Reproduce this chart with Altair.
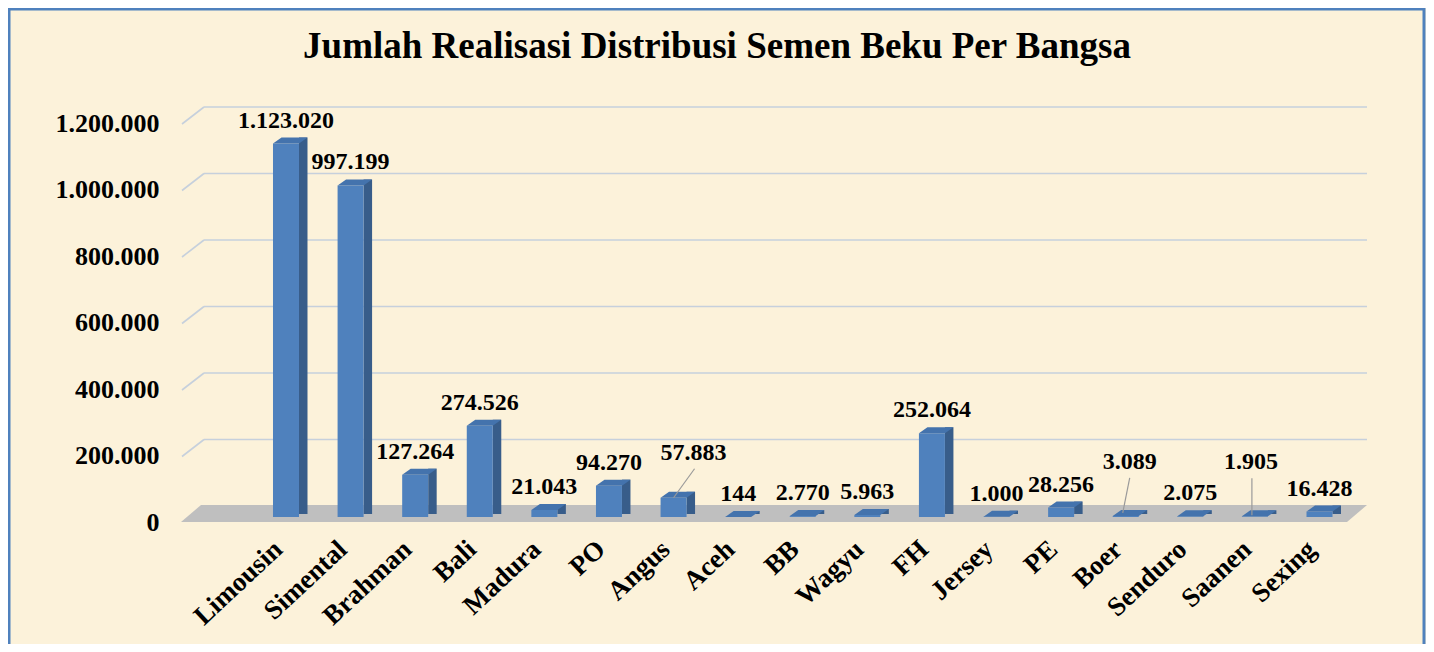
import altair as alt
import pandas as pd

# ---- data -------------------------------------------------------------
categories = ["Limousin", "Simental", "Brahman", "Bali", "Madura", "PO", "Angus",
              "Aceh", "BB", "Wagyu", "FH", "Jersey", "PE", "Boer", "Senduro",
              "Saanen", "Sexing"]
values = [1123020, 997199, 127264, 274526, 21043, 94270, 57883,
          144, 2770, 5963, 252064, 1000, 28256, 3089, 2075,
          1905, 16428]
y_ticks = [0, 200000, 400000, 600000, 800000, 1000000, 1200000]
title_text = "Jumlah Realisasi Distribusi Semen Beku Per Bangsa"


def fmt(v):
    return f"{v:,}".replace(",", ".")


df = pd.DataFrame({"bangsa": categories, "jumlah": values,
                   "label": [fmt(v) for v in values]})
grid_df = pd.DataFrame({"tick": y_ticks[1:]})
one = pd.DataFrame({"k": [0]})

# ---- layout / style ---------------------------------------------------
W, H = 1185, 399
FONT = "Liberation Serif"
FRONT, SIDE, TOP = "#4f81bd", "#385d8a", "#4473ad"
GRID = "#c6d0dc"
FLOOR = "#bfbfbf"
BG = "#fcf2da"

x_scale = alt.Scale(domain=categories, paddingInner=0, paddingOuter=0.6727, align=0.825)
y_scale = alt.Scale(domain=[0, 1200000], nice=False, zero=True)

x_axis = alt.Axis(title=None, labelAngle=317, labelAlign="right",
                  labelBaseline="alphabetic", labelFont=FONT, labelFontSize=27,
                  labelFontWeight="bold", labelColor="black", labelPadding=34,
                  labelOffset=-2, ticks=False, tickSize=0, domain=False,
                  grid=False, labelOverlap=False)
y_axis = alt.Axis(title=None, values=y_ticks,
                  labelExpr="replace(replace(format(datum.value, ','), ',', '.'), ',', '.')",
                  labelFont=FONT, labelFontSize=26, labelFontWeight="bold",
                  labelColor="black", labelPadding=23, labelOffset=5,
                  ticks=False, tickSize=0, domain=False, grid=False)

X = alt.X("bangsa:N", scale=x_scale, sort=categories, axis=x_axis, title=None)
Y = alt.Y("jumlah:Q", scale=y_scale, axis=y_axis, title=None)
YT = alt.Y("tick:Q", scale=y_scale, axis=y_axis, title=None)

border = alt.Chart(one).mark_rect(fillOpacity=0, stroke="#4f81bd", strokeWidth=3).encode(
    x=alt.value(-173), x2=alt.value(W + 57), y=alt.value(-109), y2=alt.value(H + 160))

title = alt.Chart(one).mark_text(text=title_text, font=FONT, fontSize=37,
                                 fontWeight="bold", color="black",
                                 align="center", baseline="alphabetic").encode(
    x=alt.value(535), y=alt.value(-60))

grid = alt.Chart(grid_df).mark_rule(color=GRID, strokeWidth=1.6, yOffset=-11).encode(
    x=alt.value(22), x2=alt.value(W), y=YT)

slant = alt.Chart(grid_df).mark_point(shape="M0,6 L22,-11", size=4, filled=False,
                                      color=GRID, strokeWidth=1.6, opacity=1).encode(
    x=alt.value(0), y=YT)

floor = alt.Chart(one).mark_point(shape="M-1,5 L1165,5 L1185,-12 L19,-12 Z", size=4,
                                  filled=True, fill=FLOOR, opacity=1, strokeWidth=0).encode(
    x=alt.value(0), y=alt.Y(datum=0, scale=y_scale, axis=y_axis, title=None))

side = alt.Chart(df).mark_bar(width=8.5, xOffset=17.25, yOffset=-6, y2Offset=-3,
                              color=SIDE).encode(
    x=X, y=Y, y2=alt.Y2(datum=0))

front = alt.Chart(df).mark_bar(width=26, color=FRONT).encode(x=X, y=Y)

top = alt.Chart(df).mark_point(shape="M-13,0 L13,0 L21.5,-6 L-4.5,-6 Z", size=4,
                               filled=True, fill=TOP, opacity=1, strokeWidth=0).encode(
    x=X, y=Y)

text_style = dict(font=FONT, fontSize=24, fontWeight="bold", color="black",
                  align="center", baseline="alphabetic")

moved = {"Angus": (20, -38, "M0,0 L21,-29"),
         "Boer": (4, -47, "M-3,-3 L4,-38"),
         "Saanen": (-4, -47, "M-3,-1 L-3,-38")}

labels = alt.Chart(df).mark_text(dy=-16, **text_style).encode(
    x=X, y=Y, text="label:N").transform_filter(
    "indexof(['Angus','Boer','Saanen'], datum.bangsa) < 0")

layers = [border, title, grid, slant, floor, side, front, top, labels]
for name, (dx, dy, path) in moved.items():
    sub = alt.Chart(df).transform_filter(alt.datum.bangsa == name)
    layers.append(sub.mark_point(shape=path, size=4, filled=False, color="#9a9a9a",
                                 strokeWidth=1.2, opacity=1).encode(x=X, y=Y))
    layers.append(sub.mark_text(dx=dx, dy=dy, **text_style).encode(
        x=X, y=Y, text="label:N"))

chart = alt.layer(*layers).properties(
    width=W, height=H,
    autosize=alt.AutoSizeParams(type="none"),
    padding={"left": 174, "right": 59, "top": 110, "bottom": 127},
    background=BG,
).configure_view(stroke=None)

chart.save("out.html", embed_options={"renderer": "svg", "actions": False})
